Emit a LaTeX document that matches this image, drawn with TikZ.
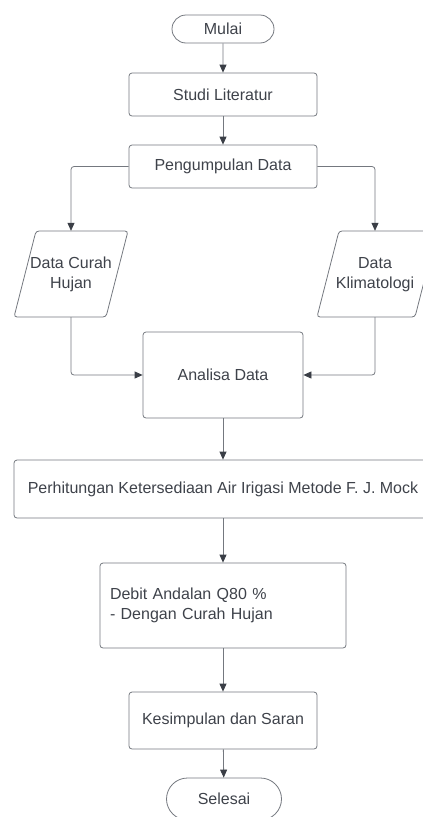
\documentclass[tikz,border=0pt]{standalone}
\usepackage{fontspec}
\setmainfont{Liberation Sans}
\usetikzlibrary{arrows.meta,shapes.misc}
\definecolor{lc}{HTML}{74787F}
\definecolor{tc}{HTML}{3E424A}
\definecolor{ac}{HTML}{3A3E46}
\begin{document}
\begin{tikzpicture}[x=1pt,y=-1pt,
  font=\fontsize{16}{20}\selectfont, text=tc,
  box/.style={draw=lc, line width=0.8pt, rounded corners=3pt, inner sep=0pt, align=center},
  term/.style={draw=lc, line width=0.8pt, rounded rectangle, inner sep=0pt},
  pshape/.style={draw=lc, line width=0.8pt, rounded corners=3pt},
  ptext/.style={inner sep=0pt, minimum height=86pt, align=center},
  conn/.style={draw=lc, line width=0.8pt, rounded corners=3pt, -{Triangle[length=8pt,width=7pt,color=ac]}}]
\useasboundingbox (0,0) rectangle (423,817);
\clip (0,0) rectangle (423,817);
\node[term, minimum width=102pt, minimum height=28pt] (mulai) at (223,29) {Mulai};
\node[box, minimum width=188pt, minimum height=43pt] (studi) at (223,94.5) {Studi Literatur};
\node[box, minimum width=188pt, minimum height=43pt] (peng) at (223,166.5) {Pengumpulan Data};
% parallelograms
\draw[pshape] (14,317) -- (36,231) -- (128,231) -- (106,317) -- cycle;
\node[ptext, minimum width=92pt] (dch) at (71,274) {\raisebox{2pt}{\begin{tabular}{@{}c@{}}Data Curah\\Hujan\end{tabular}}};
\draw[pshape] (317,317) -- (339,231) -- (437,231) -- (415,317) -- cycle;
\node[ptext, minimum width=98pt] (dk) at (375,274) {\raisebox{2pt}{\begin{tabular}{@{}c@{}}Data\\Klimatologi\end{tabular}}};
\node[box, minimum width=160pt, minimum height=86pt] (analisa) at (223,375) {Analisa Data};
\node[box, minimum width=418pt, minimum height=58pt] (perh) at (223,489) {Perhitungan Ketersediaan Air Irigasi Metode F. J. Mock};
\node[box, text width=226pt, align=left, inner xsep=10pt, minimum height=85pt] (debit) at (223,605.5) {Debit Andalan Q80 \%\\- Dengan Curah Hujan};
\node[box, minimum width=188pt, minimum height=57pt] (kes) at (223,720.5) {Kesimpulan dan Saran};
\node[term, minimum width=115pt, minimum height=42pt] (selesai) at (224,799) {Selesai};
% connectors
\draw[conn] (mulai) -- (studi);
\draw[conn] (studi) -- (peng);
\draw[conn] (peng.west) -| (dch.north);
\draw[conn] (peng.east) -| (dk.north);
\draw[conn] (dch.south) |- (analisa.west);
\draw[conn] (dk.south) |- (analisa.east);
\draw[conn] (analisa) -- (perh);
\draw[conn] (perh) -- (debit);
\draw[conn] (debit) -- (kes);
\draw[conn] (kes) -- (selesai);
\end{tikzpicture}
\end{document}
